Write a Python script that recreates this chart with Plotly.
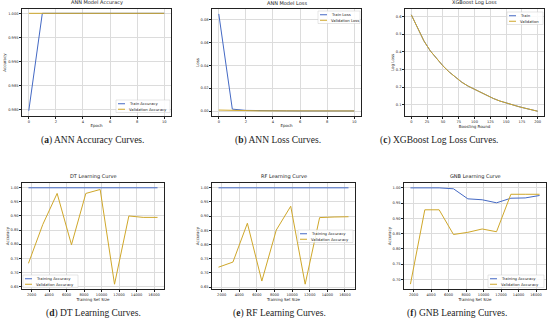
import plotly.graph_objects as go

W, H = 550, 325
BLUE = "#4469c4"
GOLD = "#cfa72a"
FONT = "DejaVu Sans"

# ---------------- data ----------------
epochs = [0, 1, 2, 3, 4, 5, 6, 7, 8, 9, 10]
ann_train_acc = [0.9797, 1.0, 1.0, 1.0, 1.0, 1.0, 1.0, 1.0, 1.0, 1.0, 1.0]
ann_val_acc = [1.0, 1.0, 1.0, 1.0, 1.0, 1.0, 1.0, 1.0, 1.0, 1.0, 1.0]
ann_train_loss = [0.0849, 0.0017, 0.0006, 0.0003, 0.0002, 0.0002, 0.0001, 0.0001, 0.0001, 0.0001, 0.0001]
ann_val_loss = [0.0009, 0.0005, 0.0003, 0.0002, 0.0002, 0.0001, 0.0001, 0.0001, 0.0001, 0.0001, 0.0001]

xgb_rounds = [0, 10, 20, 30, 40, 50, 60, 70, 80, 90, 100, 110, 120, 130, 140, 150, 160, 170, 180, 190, 200]
xgb_train = [0.609, 0.530, 0.461, 0.405, 0.360, 0.320, 0.285, 0.254, 0.227, 0.205, 0.187,
             0.168, 0.150, 0.135, 0.121, 0.109, 0.099, 0.089, 0.080, 0.071, 0.063]
xgb_val = [0.609, 0.530, 0.461, 0.405, 0.360, 0.320, 0.285, 0.254, 0.227, 0.205, 0.187,
           0.168, 0.150, 0.135, 0.121, 0.109, 0.099, 0.089, 0.080, 0.071, 0.063]

train_sizes = [1640, 3280, 4920, 6560, 8200, 9840, 11480, 13120, 14760, 16400]
dt_train = [1.0, 1.0, 1.0, 1.0, 1.0, 1.0, 1.0, 1.0, 1.0, 1.0]
dt_val = [0.732, 0.870, 0.980, 0.798, 0.980, 0.994, 0.658, 0.900, 0.895, 0.895]
rf_train = [1.0, 1.0, 1.0, 1.0, 1.0, 1.0, 1.0, 1.0, 1.0, 1.0]
rf_val = [0.720, 0.738, 0.875, 0.671, 0.851, 0.935, 0.660, 0.895, 0.897, 0.898]
gnb_train = [1.000, 1.000, 1.000, 0.997, 0.964, 0.961, 0.951, 0.966, 0.967, 0.975]
gnb_val = [0.684, 0.928, 0.928, 0.847, 0.854, 0.865, 0.856, 0.979, 0.979, 0.979]

size_ticks = [2000, 4000, 6000, 8000, 10000, 12000, 14000, 16000]

titles = ["ANN Model Accuracy", "ANN Model Loss", "XGBoost Log Loss",
          "DT Learning Curve", "RF Learning Curve", "GNB Learning Curve"]
captions = ["(<b>a</b>) ANN Accuracy Curves.", "(<b>b</b>) ANN Loss Curves.",
            "(<b>c</b>) XGBoost Log Loss Curves.", "(<b>d</b>) DT Learning Curves.",
            "(<b>e</b>) RF Learning Curves.", "(<b>f</b>) GNB Learning Curves."]


def px(x):
    return x / W


def py(y):
    return 1 - y / H


# panel boxes in pixels: (x0, x1, ytop, ybottom)
boxes = [
    (22, 171, 9, 116),
    (212, 361, 9, 116),
    (405, 544, 9, 116),
    (22, 164, 183, 289),
    (212, 355, 183, 289),
    (404, 546, 183, 289),
]

fig = go.Figure()

panels = [
    dict(x=epochs, s=[("Train Accuracy", ann_train_acc, BLUE), ("Validation Accuracy", ann_val_acc, GOLD)],
         xr=[-0.5, 10.5], yr=[0.9786, 1.0009], xt=[0, 2, 4, 6, 8, 10], yt=[0.980, 0.985, 0.990, 0.995, 1.000],
         yf=".3f", xl="Epoch", yl="Accuracy"),
    dict(x=epochs, s=[("Train Loss", ann_train_loss, BLUE), ("Validation Loss", ann_val_loss, GOLD)],
         xr=[-0.5, 10.5], yr=[-0.0043, 0.0892], xt=[0, 2, 4, 6, 8, 10], yt=[0.0, 0.02, 0.04, 0.06, 0.08],
         yf=".2f", xl="Epoch", yl="Loss"),
    dict(x=xgb_rounds, s=[("Train", xgb_train, BLUE), ("Validation", xgb_val, GOLD)],
         xr=[-10, 210], yr=[0.036, 0.642], xt=[0, 25, 50, 75, 100, 125, 150, 175, 200],
         yt=[0.1, 0.2, 0.3, 0.4, 0.5, 0.6], yf=".1f", xl="Boosting Round", yl="Log Loss"),
    dict(x=train_sizes, s=[("Training Accuracy", dt_train, BLUE), ("Validation Accuracy", dt_val, GOLD)],
         xr=[902, 17138], yr=[0.641, 1.017], xt=size_ticks,
         yt=[0.65, 0.70, 0.75, 0.80, 0.85, 0.90, 0.95, 1.00], yf=".2f", xl="Training Set Size", yl="Accuracy"),
    dict(x=train_sizes, s=[("Training Accuracy", rf_train, BLUE), ("Validation Accuracy", rf_val, GOLD)],
         xr=[902, 17138], yr=[0.643, 1.017], xt=size_ticks,
         yt=[0.65, 0.70, 0.75, 0.80, 0.85, 0.90, 0.95, 1.00], yf=".2f", xl="Training Set Size", yl="Accuracy"),
    dict(x=train_sizes, s=[("Training Accuracy", gnb_train, BLUE), ("Validation Accuracy", gnb_val, GOLD)],
         xr=[902, 17138], yr=[0.668, 1.016], xt=size_ticks,
         yt=[0.70, 0.75, 0.80, 0.85, 0.90, 0.95, 1.00], yf=".2f", xl="Training Set Size", yl="Accuracy"),
]

# legend boxes in pixels: (x0, ytop, width)
legend_pos = [
    (116, 100, 54),
    (318, 11, 42),
    (507, 12, 36),
    (23, 275, 55),
    (298, 230, 55),
    (488, 275, 56),
]

shapes = []
annotations = []
layout_axes = {}

for i, (p, b) in enumerate(zip(panels, boxes)):
    n = "" if i == 0 else str(i + 1)
    xa, ya = "x" + n, "y" + n
    for name, vals, col in p["s"]:
        fig.add_trace(go.Scatter(x=p["x"], y=vals, mode="lines", name=name,
                                 line=dict(color=col, width=1.0), showlegend=False,
                                 xaxis=xa, yaxis=ya))
    x0, x1, yt_, yb_ = b
    common = dict(showline=True, mirror=True, linecolor="#222", linewidth=0.6,
                  ticks="outside", ticklen=2, tickwidth=0.5, tickcolor="#222",
                  showgrid=True, gridcolor="#dcdcdc", gridwidth=0.5, zeroline=False,
                  tickfont=dict(family=FONT, size=3.6, color="#222"), tickangle=0)
    layout_axes["xaxis" + n] = dict(common, domain=[px(x0), px(x1)], anchor=ya, range=p["xr"],
                                    tickmode="array", tickvals=p["xt"], tickformat="d",
                                    title=dict(text=p["xl"], font=dict(family=FONT, size=4, color="#222"), standoff=1))
    layout_axes["yaxis" + n] = dict(common, domain=[py(yb_), py(yt_)], anchor=xa, range=p["yr"],
                                    tickmode="array", tickvals=p["yt"], tickformat=p["yf"],
                                    title=dict(text=p["yl"], font=dict(family=FONT, size=4, color="#222"), standoff=1))
    # title
    annotations.append(dict(text=titles[i], x=px((x0 + x1) / 2), y=py(yt_ - 1), xref="paper", yref="paper",
                            xanchor="center", yanchor="bottom", showarrow=False,
                            font=dict(family=FONT, size=5, color="#222")))
    # caption
    cy = 141 if i < 3 else 313
    cx = [92, 278, 439, 93, 279, 457][i]
    annotations.append(dict(text=captions[i], x=px(cx), y=py(cy), xref="paper", yref="paper",
                            xanchor="center", yanchor="middle", showarrow=False,
                            font=dict(family="Liberation Serif", size=9.5, color="#222")))
    # legend
    lx, ly, lw = legend_pos[i]
    row = 5.5
    lh = row * 2 + 1.5
    shapes.append(dict(type="rect", xref="paper", yref="paper", x0=px(lx), x1=px(lx + lw),
                       y0=py(ly + lh), y1=py(ly), fillcolor="rgba(255,255,255,0.85)",
                       line=dict(color="#cccccc", width=0.5), layer="above"))
    for k, (name, vals, col) in enumerate(p["s"]):
        yy = ly + 1 + row * k + row / 2
        shapes.append(dict(type="line", xref="paper", yref="paper", x0=px(lx + 2), x1=px(lx + 9),
                           y0=py(yy), y1=py(yy), line=dict(color=col, width=1.0), layer="above"))
        annotations.append(dict(text=name, x=px(lx + 11), y=py(yy), xref="paper", yref="paper",
                                xanchor="left", yanchor="middle", showarrow=False,
                                font=dict(family=FONT, size=3.8, color="#222")))

fig.update_layout(width=W, height=H, margin=dict(l=0, r=0, t=0, b=0),
                  paper_bgcolor="white", plot_bgcolor="white",
                  shapes=shapes, annotations=annotations, **layout_axes)

fig.write_html("out.html", post_script="document.body.style.margin='0';",
               config={"displayModeBar": False})
